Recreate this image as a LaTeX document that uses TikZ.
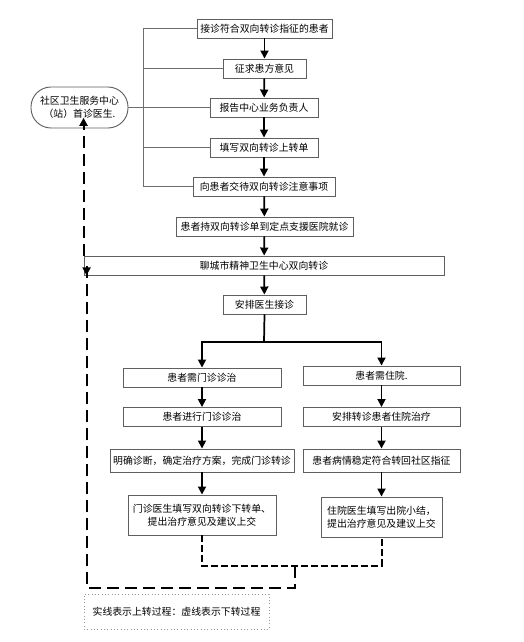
\documentclass[tikz,border=0pt]{standalone}
\usepackage{fontspec}
\newfontfamily\cjk{Noto Sans CJK SC}
\usetikzlibrary{arrows.meta}

\tikzset{
  stepbox/.style={draw={rgb,255:red,95;green,95;blue,95}, line width=0.7pt, fill=white, inner sep=0pt,
    minimum height=14.25pt, align=center, font=\cjk\fontsize{7.4}{10}\selectfont},
  flow/.style={-{Triangle[length=6pt,width=6pt]}, line width=1.3pt},
  back/.style={line width=1.5pt, dash pattern=on 9pt off 4.5pt},
  backshort/.style={line width=1.5pt, dash pattern=on 5pt off 2.5pt},
  brace/.style={draw={rgb,255:red,110;green,110;blue,110}, line width=0.6pt}
}

\begin{document}
\begin{tikzpicture}[x=0.75pt,y=0.75pt,yscale=-1,xscale=1]
\useasboundingbox (0,0) rectangle (524,642);

% Text Node
\node [stepbox, minimum width=101.25pt] (accept) at (264.5,28.5) {接诊符合双向转诊指征的患者};
% Text Node
\node [stepbox, minimum width=62.25pt] (consent) at (264.5,68.5) {征求患方意见};
% Text Node
\node [stepbox, minimum width=81pt] (report) at (264,107.5) {报告中心业务负责人};
% Text Node
\node [stepbox, minimum width=81pt] (upform) at (264,147.5) {填写双向转诊上转单};
% Text Node
\node [stepbox, minimum width=106.5pt] (notice) at (264,186.5) {向患者交待双向转诊注意事项};
% Text Node
\node [stepbox, minimum width=132.75pt] (visit) at (264.5,226.5) {患者持双向转诊单到定点支援医院就诊};
% Text Node
\node [stepbox, minimum width=270pt] (center) at (264,265.5) {聊城市精神卫生中心双向转诊};
% Text Node
\node [stepbox, minimum width=62.25pt] (doctor) at (264.5,304.5) {安排医生接诊};

% Text Node
\node [stepbox, minimum width=118.5pt] (outneed) at (202,377.5) {患者需门诊诊治};
% Text Node
\node [stepbox, minimum width=117.75pt] (inneed) at (381.5,375.5) {患者需住院.};
% Text Node
\node [stepbox, minimum width=118.5pt] (outdo) at (202,417) {患者进行门诊诊治};
% Text Node
\node [stepbox, minimum width=117.75pt] (indo) at (381.5,417) {安排转诊患者住院治疗};
% Text Node
\node [stepbox, minimum width=138pt, minimum height=17.25pt] (outdiag) at (202,460.5) {明确诊断，确定治疗方案，完成门诊转诊};
% Text Node
\node [stepbox, minimum width=117.75pt, minimum height=17.25pt] (instable) at (381.5,460.5) {患者病情稳定符合转回社区指征};
% Text Node
\node [stepbox, minimum width=111pt, minimum height=30pt] (outdown) at (202,515) {门诊医生填写双向转诊下转单、\\提出治疗意见及建议上交};
% Text Node
\node [stepbox, minimum width=90.75pt, minimum height=30pt] (indown) at (381.5,517) {住院医生填写出院小结，\\提出治疗意见及建议上交};

%Rounded Rect
\node [stepbox, rounded corners=15pt, minimum width=72.75pt, minimum height=30.75pt] (clinic) at (79.5,107.5) {社区卫生服务中心\\（站）首诊医生.};
%Legend
\node [stepbox, draw={rgb,255:red,150;green,150;blue,150}, line width=0.5pt, dotted, minimum width=138.75pt, minimum height=26.25pt] (legend) at (176.5,611.5) {实线表示上转过程：虚线表示下转过程};

%Bracket lines
\coordinate (bk) at (143,0);
\draw [brace] (accept.west) -- (accept.west -| bk) -- (notice.west -| bk) -- (notice.west);
\draw [brace] (consent.west) -- (consent.west -| bk);
\draw [brace] (upform.west) -- (upform.west -| bk);
\draw [brace] (clinic.east) -- (report.west);

%Up flow
\draw [flow] (accept) -- (consent);
\draw [flow] (consent) -- (report);
\draw [flow] (report) -- (upform);
\draw [flow] (upform) -- (notice);
\draw [flow] (notice) -- (visit);
\draw [flow] (visit) -- (center);
\draw [flow] (center) -- (doctor);

%Split
\coordinate (split) at (264,342);
\draw [line width=1.3pt] (doctor.south) -- (split);
\draw [flow] (split) -| (outneed.north);
\draw [flow] (split) -| (inneed.north);
\draw [flow] (outneed) -- (outdo);
\draw [flow] (outdo) -- (outdiag);
\draw [flow] (outdiag) -- (outdown);
\draw [flow] (inneed) -- (indo);
\draw [flow] (indo) -- (instable);
\draw [flow] (instable) -- (indown);

%Down flow
\coordinate (merge) at (295,566);
\coordinate (corner) at (295,588);
\draw [backshort] (outdown.south) -- (outdown.south |- merge) -- (indown.south |- merge) -- (indown.south);
\draw [back] (merge) -- (corner) -- ([xshift=2.25pt]center.south west |- corner) -- ([xshift=2.25pt, yshift=-8pt]center.south west);
\draw [-{Triangle[length=6pt,width=6pt]}, line width=1.3pt] ([xshift=2.25pt, yshift=-6pt]center.south west) -- ([xshift=2.25pt]center.south west);
\draw [back, -{Triangle[length=6pt,width=6pt]}] (center.north west) -- ([yshift=-8pt]center.north west |- clinic.south);

\end{tikzpicture}
\end{document}
